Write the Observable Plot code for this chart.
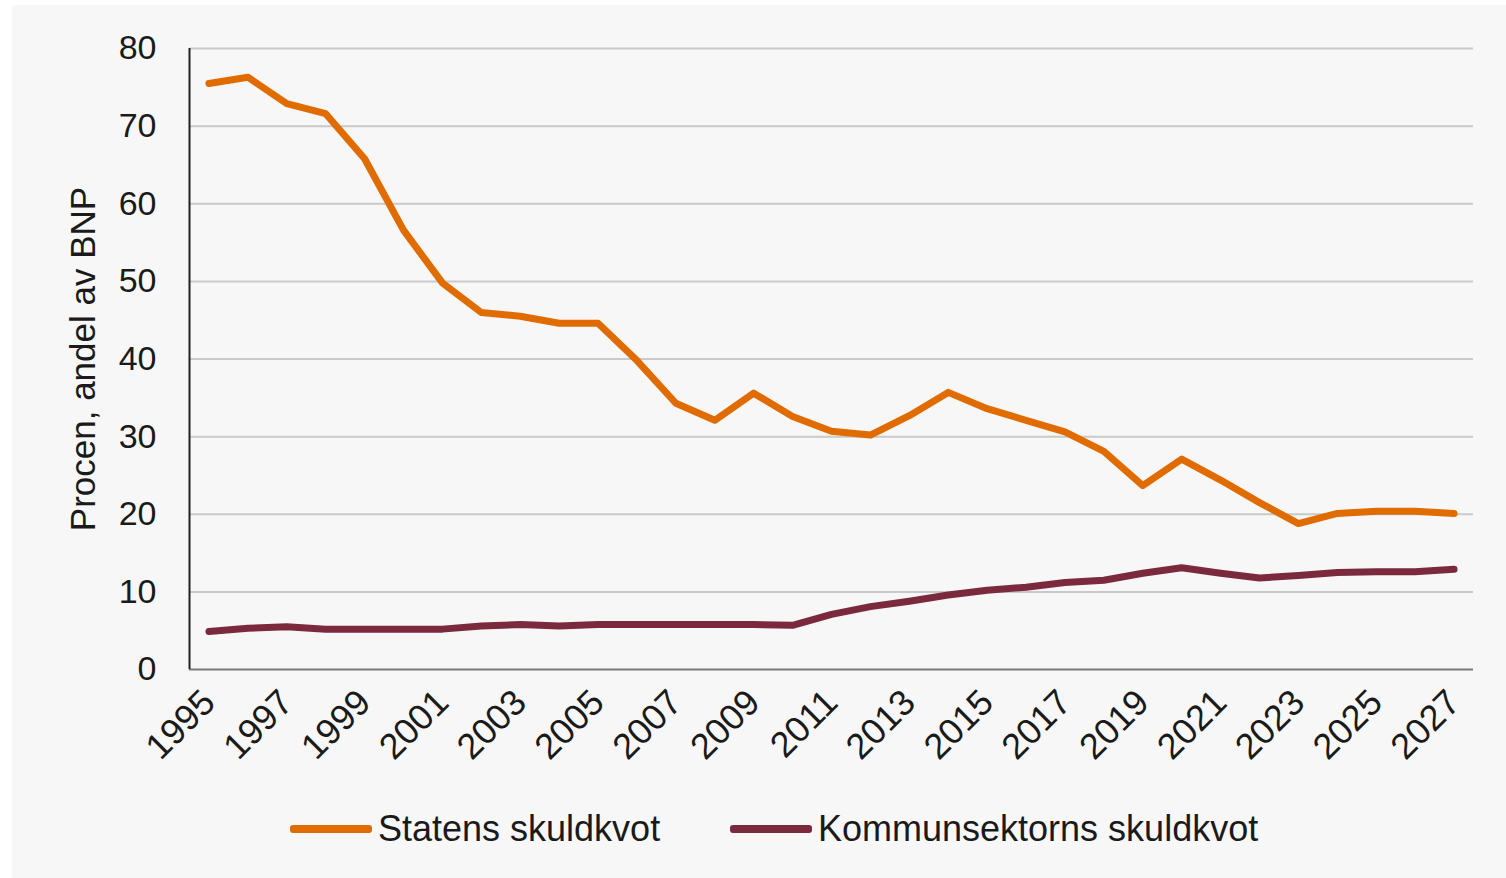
<!DOCTYPE html>
<html>
<head>
<meta charset="utf-8">
<script src="https://cdn.jsdelivr.net/npm/d3@7"></script>
<script src="https://cdn.jsdelivr.net/npm/@observablehq/plot@0.6"></script>
<style>
  html, body { margin: 0; padding: 0; background: #ffffff; }
  #wrap { position: absolute; left: 12px; top: 5px; width: 1494px; height: 873px; background: #f7f7f7; font-family: "Liberation Sans", Arial, sans-serif; color: #1a1a1a; }
  #legend { position: relative; height: 98px; }
  .item { position: absolute; top: 0; height: 98px; display: flex; align-items: center; font-size: 36px; }
  .sw { width: 82px; height: 8px; border-radius: 3px; margin-right: 6px; }
</style>
</head>
<body>
<div id="wrap"><div id="chart"></div><div id="legend"></div></div>
<script>
const years = d3.range(1995, 2028);
const statens = [75.5, 76.3, 72.9, 71.6, 65.8, 56.6, 49.8, 46.0, 45.5, 44.6, 44.6, 39.8, 34.3, 32.1, 35.6, 32.6, 30.7, 30.2, 32.7, 35.7, 33.6, 32.1, 30.6, 28.1, 23.7, 27.1, 24.4, 21.5, 18.8, 20.1, 20.4, 20.4, 20.1];
const kommun = [4.9, 5.3, 5.5, 5.2, 5.2, 5.2, 5.2, 5.6, 5.8, 5.6, 5.8, 5.8, 5.8, 5.8, 5.8, 5.7, 7.1, 8.1, 8.8, 9.6, 10.2, 10.6, 11.2, 11.5, 12.4, 13.1, 12.4, 11.8, 12.1, 12.5, 12.6, 12.6, 12.9];
const yTicks = [0, 10, 20, 30, 40, 50, 60, 70, 80];
const xTicks = d3.range(1995, 2028, 2);
const seriesNames = ["Statens skuldkvot", "Kommunsektorns skuldkvot"];
const seriesColors = ["#e06c00", "#7b2a3e"];
const yLabel = "Procen, andel av BNP";

const data = [];
years.forEach((y, i) => {
  data.push({year: y, value: statens[i], series: seriesNames[0]});
  data.push({year: y, value: kommun[i], series: seriesNames[1]});
});

const chart = Plot.plot({
  width: 1494,
  height: 775,
  marginLeft: 177,
  marginTop: 43,
  marginRight: 33,
  marginBottom: 111,
  style: {background: "transparent", fontFamily: "'Liberation Sans', Arial, sans-serif", fontSize: "34px", color: "#1a1a1a"},
  x: {domain: [1994.5, 2027.5]},
  y: {domain: [0, 80]},
  color: {domain: seriesNames, range: seriesColors},
  marks: [
    Plot.ruleY(yTicks.filter(d => d > 0), {stroke: "#c9c9c9", strokeWidth: 2}),
    Plot.ruleY([0], {stroke: "#7a7a7a", strokeWidth: 2}),
    Plot.ruleX([1994.5], {stroke: "#222", strokeWidth: 2}),
    Plot.axisY({ticks: yTicks, tickSize: 0, tickPadding: 33, label: null, fontSize: 34}),
    Plot.axisX({ticks: xTicks, tickFormat: "d", tickSize: 0, tickRotate: -45, tickPadding: 27, label: null, fontSize: 36}),
    Plot.text([yLabel], {frameAnchor: "left", textAnchor: "middle", rotate: -90, dx: -106, fontSize: 35, fill: "#1a1a1a"}),
    Plot.line(data, {x: "year", y: "value", z: "series", stroke: "series", strokeWidth: 7, strokeLinecap: "round", strokeLinejoin: "round"})
  ]
});
document.getElementById("chart").appendChild(chart);

const legend = document.getElementById("legend");
const lefts = [278, 718];
seriesNames.forEach((name, i) => {
  const it = document.createElement("div");
  it.className = "item";
  it.style.left = lefts[i] + "px";
  const sw = document.createElement("div");
  sw.className = "sw";
  sw.style.background = seriesColors[i];
  const t = document.createElement("span");
  t.textContent = name;
  it.appendChild(sw);
  it.appendChild(t);
  legend.appendChild(it);
});
</script>
</body>
</html>
